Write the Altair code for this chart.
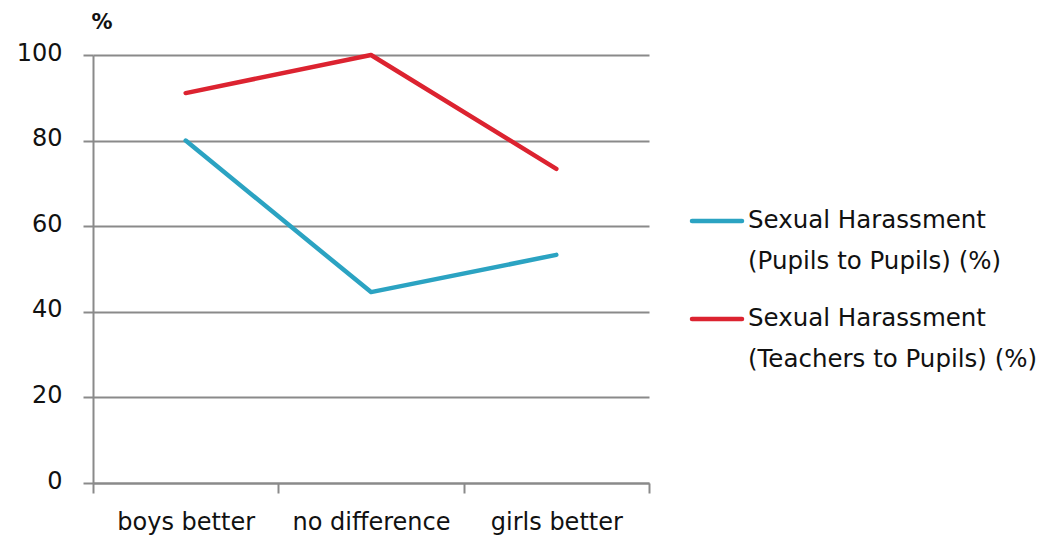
import altair as alt
import pandas as pd

# Attitude categories on the x axis
categories = ["boys better", "no difference", "girls better"]

# Series names (legend labels are split onto two lines)
series_names = [
    "Sexual Harassment (Pupils to Pupils) (%)",
    "Sexual Harassment (Teachers to Pupils) (%)",
]
series_colors = ["#2ba3c2", "#dc2330"]

# Percentages per category
pupils_to_pupils = [80, 44.6, 53.3]
teachers_to_pupils = [91.1, 100, 73.4]

y_ticks = [0, 20, 40, 60, 80, 100]

rows = []
for cat, v in zip(categories, pupils_to_pupils):
    rows.append({"category": cat, "series": series_names[0], "value": v})
for cat, v in zip(categories, teachers_to_pupils):
    rows.append({"category": cat, "series": series_names[1], "value": v})
df = pd.DataFrame(rows)

legend_df = pd.DataFrame({
    "series": series_names,
    "line1": [s.split(" (", 1)[0] for s in series_names],
    "line2": ["(" + s.split(" (", 1)[1] for s in series_names],
})

FONT = "DejaVu Sans"
GRID = "#8a8a8a"
TEXT = "#111111"

color_scale = alt.Scale(domain=series_names, range=series_colors)

lines = alt.Chart(df).mark_line(strokeWidth=4.5, strokeCap="round", strokeJoin="round").encode(
    x=alt.X(
        "category:N",
        sort=categories,
        scale=alt.Scale(type="band", paddingInner=0, paddingOuter=0),
        axis=alt.Axis(
            title=None,
            labelAngle=0,
            labelFont=FONT,
            labelFontSize=24,
            labelColor=TEXT,
            labelPadding=17,
            tickBand="extent",
            tickSize=10,
            tickColor=GRID,
            tickWidth=2,
            domainColor=GRID,
            domainWidth=2,
            grid=False,
        ),
    ),
    y=alt.Y(
        "value:Q",
        scale=alt.Scale(domain=[0, 100], nice=False),
        axis=alt.Axis(
            values=y_ticks,
            title="%",
            titleAngle=0,
            titleX=-2,
            titleY=-27,
            titleAlign="left",
            titleBaseline="alphabetic",
            titleFont=FONT,
            titleFontSize=21,
            titleFontWeight="bold",
            titleColor=TEXT,
            labelFont=FONT,
            labelFontSize=24,
            labelColor=TEXT,
            labelPadding=21,
            labelOffset=-2,
            tickSize=10,
            tickColor=GRID,
            tickWidth=2,
            domainColor=GRID,
            domainWidth=2,
            grid=True,
            gridColor=GRID,
            gridWidth=2,
        ),
    ),
    color=alt.Color("series:N", scale=color_scale, legend=None),
    order=alt.Order("series:N"),
)

# Legend drawn beside the plot: a swatch line plus a two-line label per series
legend_y = alt.Y(
    "series:N",
    sort=series_names,
    scale=alt.Scale(type="point", domain=series_names, range=[166, 264], padding=0),
    axis=None,
)

legend_swatch = alt.Chart(legend_df).mark_rule(strokeWidth=4.5, strokeCap="round").encode(
    x=alt.value(599),
    x2=alt.value(649),
    y=legend_y,
    color=alt.Color("series:N", scale=color_scale, legend=None),
)

legend_line1 = alt.Chart(legend_df).mark_text(
    align="left", baseline="alphabetic", dy=7, font=FONT, fontSize=24.5, color=TEXT
).encode(x=alt.value(655), y=legend_y, text="line1:N")

legend_line2 = alt.Chart(legend_df).mark_text(
    align="left", baseline="alphabetic", dy=48, font=FONT, fontSize=24.5, color=TEXT
).encode(x=alt.value(655), y=legend_y, text="line2:N")

chart = (
    alt.layer(lines, legend_swatch, legend_line1, legend_line2)
    .resolve_scale(y="independent")
    .properties(
        width=556,
        height=428,
        autosize=alt.AutoSizeParams(type="none"),
        padding={"left": 93, "top": 55, "right": 411, "bottom": 55},
        background="white",
    )
    .configure_view(stroke=None)
)

chart.save("out.html", embed_options={"renderer": "svg", "actions": False})
